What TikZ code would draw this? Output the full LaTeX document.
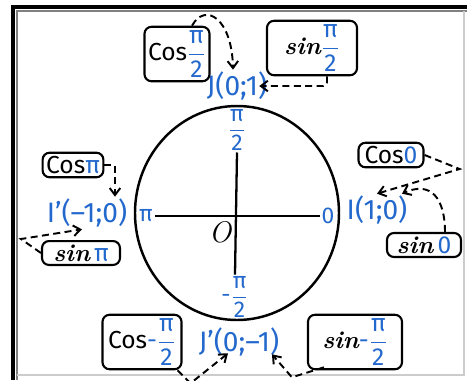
\documentclass[tikz,border=0pt]{standalone}
\usepackage{amsmath}
\usepackage{fontspec}
\usepackage{xcolor}
\usepackage{tikz}
\usetikzlibrary{arrows.meta, positioning, calc}
\newfontfamily\handsans{Fira Sans}
\definecolor{penblue}{RGB}{35,105,205}
\newcommand{\pifrac}{$\dfrac{\text{π}}{\text{2}}$}
\newcommand{\sinword}{{\rmfamily\bfseries\itshape sin}}

\begin{document}
\begin{tikzpicture}[x=0.02cm, y=-0.02cm,
  fn/.style={rectangle, draw, line width=1.2pt, rounded corners=4pt, fill=white, inner sep=2pt, font=\handsans\fontsize{14}{15}\selectfont},
  pt/.style={text=penblue, font=\handsans\fontsize{16}{17}\selectfont, inner sep=1pt},
  axlbl/.style={text=penblue, font=\handsans\fontsize{13}{14}\selectfont, inner sep=1pt},
  link/.style={line width=1.1pt, dash pattern=on 4pt off 2.5pt, -{Straight Barb[length=4pt,width=6pt]}}
]
  \useasboundingbox (0,0) rectangle (467,380);
  \draw[line width=2.3pt] (13,380) -- (13,7) -- (467,7);
  \draw[gray, line width=0.6pt] (17,380) -- (17,11) -- (467,11);
  \draw[black!20, line width=0.6pt] (17,375) -- (464,375) -- (464,11);

  \draw[line width=1.4pt] (237,213) ellipse [x radius=102, y radius=107];
  \node[axlbl] (lhalf) at (237,130) {\pifrac};
  \node[axlbl] (lmhalf) at (235,297) {-\pifrac};
  \node[axlbl] (lpi) at (146,216) {π};
  \node[axlbl] (lzero) at (328,216) {0};
  \node[font=\rmfamily\itshape\fontsize{17}{17}\selectfont] (orig) at (220,232) {O};
  \draw[line width=1.3pt] (lpi.east) -- (lzero.west);
  \draw[line width=1.3pt] (lhalf.south) -- (lmhalf.north);

  \node[pt] (J) at (237,86) {J(0;1)};
  \node[pt] (Jp) at (239,342) {J’(0;–1)};
  \node[pt] (Ip) at (87,213) {I’(–1;0)};
  \node[pt] (I) at (377,210) {I(1;0)};

  \node[fn, minimum width=1.3cm, minimum height=0.9cm] (cosH) at (177,54) {Cos\textcolor{penblue}{\pifrac}};
  \node[fn, minimum width=1.8cm, minimum height=0.8cm] (sinH) at (312,48) {\sinword\textcolor{penblue}{\pifrac}};
  \node[fn, minimum width=1.2cm, minimum height=0.44cm] (cosP) at (73,165) {Cos\textcolor{penblue}{π}};
  \node[fn, minimum width=1.56cm, minimum height=0.44cm] (sinP) at (81,253) {\sinword\,\textcolor{penblue}{π}};
  \node[fn, minimum width=1.3cm, minimum height=0.44cm] (cosZ) at (391,155) {Cos\textcolor{penblue}{0}};
  \node[fn, minimum width=1.48cm, minimum height=0.48cm] (sinZ) at (424,245) {\sinword\,\textcolor{penblue}{0}};
  \node[fn, minimum width=1.58cm, minimum height=0.82cm] (cosM) at (142,342) {Cos\textcolor{penblue}{-\pifrac}};
  \node[fn, minimum width=1.88cm, minimum height=0.86cm] (sinM) at (355,342) {\sinword\textcolor{penblue}{-\pifrac}};

  \draw[link] ([xshift=0.3cm]cosH.north) .. controls (205,2) and (232,18) .. ([xshift=-0.08cm]J.north);
  \draw[link, rounded corners=2pt] ([xshift=0.3cm]sinH.south) |- ([xshift=-0.2cm]J.east);
  \draw[link] (cosP.east) -| ([xshift=0.56cm]Ip.north);
  \draw[link] (sinP.west) -- ++(-20,-14) -- ([xshift=-0.1cm]Ip.south);
  \draw[link] (cosZ.east) -- ++(35,14) -- (I.north);
  \draw[link] ([xshift=0.42cm]sinZ.north) .. controls (445,200) and (432,180) .. ([xshift=0.5cm]I.north);
  \draw[link] ([xshift=-0.1cm]cosM.south east) -- ++(13,13) -- ([xshift=-0.22cm,yshift=0.1cm]Jp.south);
  \draw[link] ([xshift=0.34cm,yshift=0.06cm]sinM.south west) -- ++(-32,10) -- ([xshift=0.66cm,yshift=0.08cm]Jp.south);
\end{tikzpicture}
\end{document}
